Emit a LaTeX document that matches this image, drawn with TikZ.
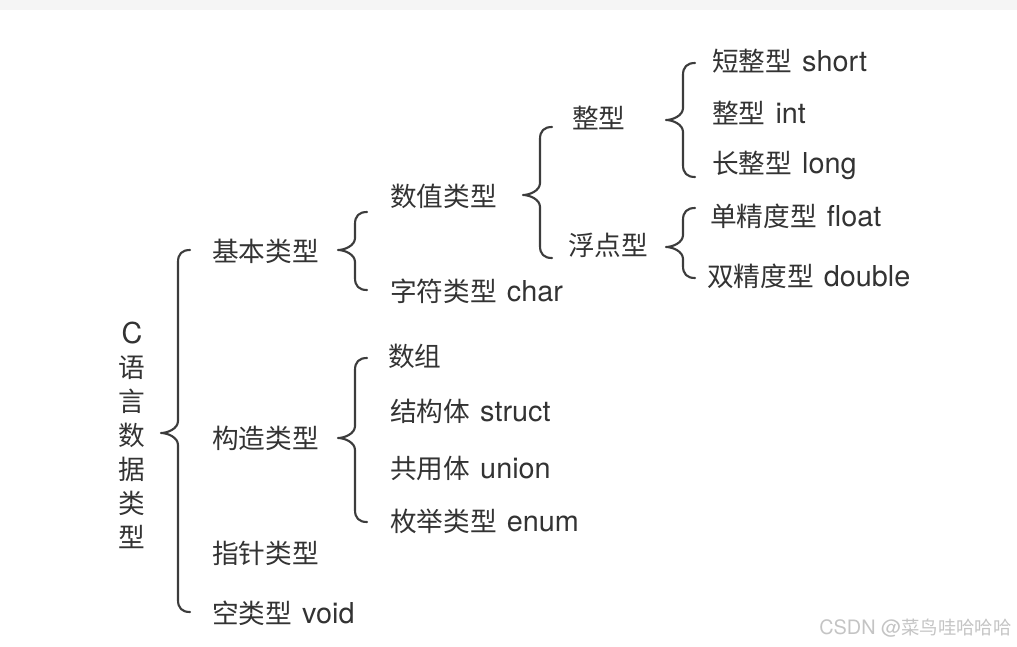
\documentclass[tikz,border=0pt]{standalone}
\usepackage{fontspec}
\setmainfont{Noto Sans CJK SC}
\newfontfamily\latinfont[Scale=1.08]{TeX Gyre Heros}
\newcommand{\lat}[1]{\kern0.15em{\latinfont #1}}
\definecolor{txtgray}{HTML}{333333}
\definecolor{bracegray}{HTML}{3C3C3C}
\definecolor{bandgray}{HTML}{F5F5F5}
\definecolor{markgray}{HTML}{C4C4C4}
\tikzset{typenode/.style={anchor=west,inner sep=0pt,text height=1.3em,text depth=0pt,text=txtgray,font=\fontsize{20}{24}\selectfont},
         bracestyle/.style={line width=1.6pt,draw=bracegray,line cap=round,line join=round}}
% #1 x of the stem, #2 top, #3 tip, #4 bottom
\newcommand{\curlybrace}[4]{\draw[bracestyle] (#1+12,#2) .. controls +(-8,0) and +(0,-8) .. (#1,#2+12)
    -- (#1,#3-12) .. controls +(0,8) and +(6,0) .. (#1-17,#3)
    .. controls +(6,0) and +(0,-8) .. (#1,#3+12)
    -- (#1,#4-12) .. controls +(0,8) and +(-8,0) .. (#1+12,#4);}
\begin{document}
\begin{tikzpicture}[x=0.75pt,y=-0.75pt]
\useasboundingbox (0,0) rectangle (1017,646);
\fill[bandgray] (0,0) rectangle (1017,10);
\node (root) [align=center,inner sep=0pt,text=txtgray,font=\fontsize{20}{25.5}\selectfont] at (132,435) {{\latinfont C}\\语\\言\\数\\据\\类\\型};
\curlybrace{178}{250}{433}{612}
\node (basic)  [typenode] at (212,253) {基本类型};
\node (build)  [typenode] at (212,440) {构造类型};
\node (ptr)    [typenode] at (212,555) {指针类型};
\node (void)   [typenode] at (212,615) {空类型 \lat{void}};
\curlybrace{355}{212}{250}{290}
\node (num)    [typenode] at (390,198) {数值类型};
\node (char)   [typenode] at (390,293) {字符类型 \lat{char}};
\curlybrace{355}{358}{438}{522}
\node (arr)    [typenode] at (388,358) {数组};
\node (struct) [typenode] at (390,413) {结构体 \lat{struct}};
\node (union)  [typenode] at (390,470) {共用体 \lat{union}};
\node (enum)   [typenode] at (390,523) {枚举类型 \lat{enum}};
\curlybrace{540}{127}{195}{258}
\node (int)    [typenode] at (572,120) {整型};
\node (flt)    [typenode] at (568,247) {浮点型};
\curlybrace{683}{63}{120}{177}
\node (short)  [typenode] at (712,63)  {短整型 \lat{short}};
\node (intt)   [typenode] at (712,115) {整型 \lat{int}};
\node (long)   [typenode] at (712,165) {长整型 \lat{long}};
\curlybrace{683}{208}{247}{278}
\node (float)  [typenode] at (710,218) {单精度型 \lat{float}};
\node (double) [typenode] at (707,278) {双精度型 \lat{double}};
\node (mark) [anchor=east,inner sep=0pt,text=markgray,font=\fontsize{13.8}{17}\selectfont] at (1012,628) {{\latinfont CSDN @}菜鸟哇哈哈哈};
\end{tikzpicture}
\end{document}
